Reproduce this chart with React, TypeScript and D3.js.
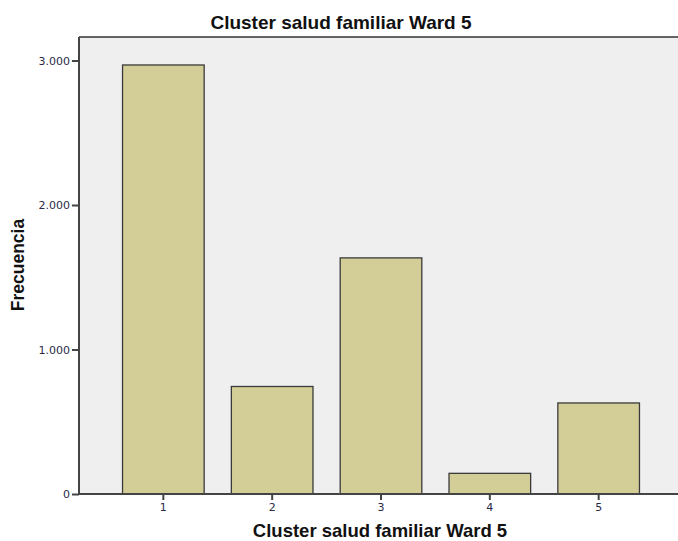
import React, { useEffect, useRef } from 'react';
import * as d3 from 'd3';

const categories = ['1', '2', '3', '4', '5'];
const counts = [2969, 744, 1634, 143, 630];
const yTicks = [0, 1000, 2000, 3000];

const title = 'Cluster salud familiar Ward 5';
const xTitle = 'Cluster salud familiar Ward 5';
const yTitle = 'Frecuencia';

export default function App() {
  const ref = useRef<SVGSVGElement>(null);

  useEffect(() => {
    const svg = d3.select(ref.current);
    svg.selectAll('*').remove();

    const left = 79;
    const right = 683;
    const top = 37;
    const bottom = 494;
    const font = '"DejaVu Sans", Verdana, sans-serif';
    const boldFont = '"Liberation Sans", Arial, sans-serif';

    const x = d3
      .scaleBand()
      .domain(categories)
      .range([left, right])
      .paddingInner(0.25)
      .paddingOuter(0.4);

    const y = d3.scaleLinear().domain([0, 3000]).range([bottom, bottom - 433.5]);

    // plot background
    svg
      .append('rect')
      .attr('x', left)
      .attr('y', top)
      .attr('width', right - left)
      .attr('height', bottom - top)
      .attr('fill', '#efefef');

    svg
      .append('line')
      .attr('x1', left)
      .attr('x2', right)
      .attr('y1', top)
      .attr('y2', top)
      .attr('stroke', '#333')
      .attr('stroke-width', 1.5);

    svg
      .selectAll('rect.bar')
      .data(counts)
      .enter()
      .append('rect')
      .attr('class', 'bar')
      .attr('x', (d, i) => x(categories[i]))
      .attr('y', d => y(d))
      .attr('width', x.bandwidth())
      .attr('height', d => bottom - y(d))
      .attr('fill', '#d3ce98')
      .attr('stroke', '#3a3a3a')
      .attr('stroke-width', 1.3);

    const yAxis = d3
      .axisLeft(y)
      .tickValues(yTicks)
      .tickSize(7)
      .tickPadding(2)
      .tickFormat(d => d3.format(',')(d as number).replace(/,/g, '.'));

    const gy = svg.append('g').attr('transform', `translate(${left},0)`).call(yAxis);
    gy.select('.domain').attr('stroke', '#444').attr('stroke-width', 2).attr('d', `M0,${top}V${bottom}`);
    gy.selectAll('.tick line').attr('stroke', '#444').attr('stroke-width', 2);
    gy.selectAll('.tick text')
      .attr('fill', '#2a2a48')
      .style('font-family', font)
      .style('font-size', '11px');

    const xAxis = d3.axisBottom(x).tickSize(6).tickPadding(3);
    const gx = svg.append('g').attr('transform', `translate(0,${bottom})`).call(xAxis);
    gx.select('.domain').attr('stroke', '#444').attr('stroke-width', 2).attr('d', `M${left},0H${right}`);
    gx.selectAll('.tick line').attr('stroke', '#444').attr('stroke-width', 2);
    gx.selectAll('.tick text')
      .attr('fill', '#2a2a48')
      .style('font-family', font)
      .style('font-size', '11px');

    svg
      .append('text')
      .attr('x', 341)
      .attr('y', 29)
      .attr('text-anchor', 'middle')
      .style('font-family', boldFont)
      .style('font-weight', 'bold')
      .style('font-size', '19px')
      .attr('fill', '#111')
      .text(title);

    svg
      .append('text')
      .attr('x', 380)
      .attr('y', 537)
      .attr('text-anchor', 'middle')
      .style('font-family', boldFont)
      .style('font-weight', 'bold')
      .style('font-size', '18.5px')
      .attr('fill', '#111')
      .text(xTitle);

    svg
      .append('text')
      .attr('transform', `translate(24,265) rotate(-90)`)
      .attr('text-anchor', 'middle')
      .style('font-family', boldFont)
      .style('font-weight', 'bold')
      .style('font-size', '17.5px')
      .attr('fill', '#111')
      .text(yTitle);
  }, []);

  return (
    <svg
      ref={ref}
      width={678}
      height={541}
      style={{ position: 'absolute', left: 0, top: 0, background: '#fff' }}
    />
  );
}
